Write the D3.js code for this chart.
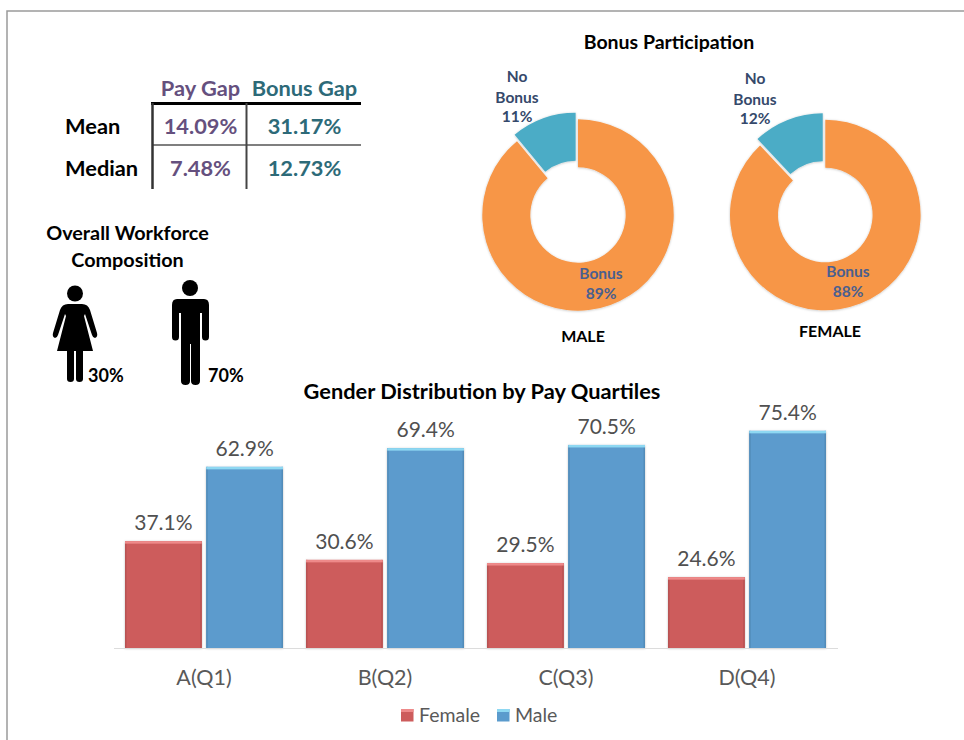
<!DOCTYPE html>
<html>
<head>
<meta charset="utf-8">
<script src="https://cdn.jsdelivr.net/npm/d3@7"></script>
<style>
  html, body { margin: 0; padding: 0; background: #fff; }
  svg { display: block; }
  text { font-family: Lato, "Open Sans", sans-serif; }
</style>
</head>
<body>
<div class="chart"></div>
<script>
// quartile bars
const quartiles = ["A(Q1)", "B(Q2)", "C(Q3)", "D(Q4)"];
const seriesNames = ["Female", "Male"];
const femaleShare = [37.1, 30.6, 29.5, 24.6];
const maleShare = [62.9, 69.4, 70.5, 75.4];

// bonus donuts
const donutNames = ["MALE", "FEMALE"];
const bonusLabels = ["Bonus", "No Bonus"];
const maleBonus = [89, 11];
const femaleBonus = [88, 12];

// gap table
const gapColumns = ["Pay Gap", "Bonus Gap"];
const gapRows = ["Mean", "Median"];
const payGap = ["14.09%", "7.48%"];
const bonusGap = ["31.17%", "12.73%"];

// workforce
const workforceLabels = ["30%", "70%"];

const width = 964, height = 740;
const fills = { Female: "#cd5c5c", Male: "#5b9bcd" };
const bevels = { Female: "#ee8a8a", Male: "#8ed8f2" };
const edges = { Female: "#b85252", Male: "#528cb9" };

const svg = d3.select(".chart").append("svg")
    .attr("width", width)
    .attr("height", height)
    .attr("viewBox", [0, 0, width, height]);

const defs = svg.append("defs");
defs.append("filter").attr("id", "soft")
    .attr("x", "-5%").attr("y", "-5%").attr("width", "110%").attr("height", "110%")
    .append("feDropShadow")
    .attr("dx", 0).attr("dy", 0.5).attr("stdDeviation", 1)
    .attr("flood-color", "#000").attr("flood-opacity", 0.25);

// page frame
svg.append("path")
    .attr("d", "M7,740V11H964")
    .attr("fill", "none")
    .attr("stroke", "#9a9a9a")
    .attr("stroke-width", 1.5);

function label(g, str, x, y, size, color, weight, anchor) {
    return g.append("text")
        .attr("x", x)
        .attr("y", y)
        .attr("text-anchor", anchor || "middle")
        .attr("font-size", size)
        .attr("font-weight", weight || "normal")
        .attr("fill", color)
        .text(str);
}

// ---- table
const tableG = svg.append("g");
const colCenter = [200.5, 304.5];
const rowBase = [134, 176];
const colColors = ["#65507e", "#2d6a78"];
gapColumns.forEach((c, i) => label(tableG, c, colCenter[i], 96, 21.8, colColors[i], "bold"));
gapRows.forEach((r, j) => {
    label(tableG, r, 65, rowBase[j], 21.8, "#000", "bold", "start");
    label(tableG, payGap[j], colCenter[0], rowBase[j], 21.8, colColors[0], "bold");
    label(tableG, bonusGap[j], colCenter[1], rowBase[j], 21.8, colColors[1], "bold");
});
tableG.append("path").attr("d", "M151,103.5H361").attr("stroke", "#000").attr("stroke-width", 3);
tableG.append("path").attr("d", "M152,145H361").attr("stroke", "#555").attr("stroke-width", 1.5);
tableG.append("path").attr("d", "M152.5,103V189").attr("stroke", "#333").attr("stroke-width", 2.5);
tableG.append("path").attr("d", "M246.5,103V189").attr("stroke", "#444").attr("stroke-width", 2);

// ---- workforce icons
const peopleG = svg.append("g");
label(peopleG, "Overall Workforce", 127.5, 240, 19.8, "#000", "bold");
label(peopleG, "Composition", 127.5, 267, 19.8, "#000", "bold");

const womanPath = "M68,304H82Q88,304 90,310L97,333Q98,337 95,338Q93,338 92,335L85,314L84,316L93,351H83V379Q83,382 79.5,382Q76,382 76,379V351H74V379Q74,382 70.5,382Q67,382 67,379V351H57L66,316L65,314L58,335Q57,338 55,338Q52,337 53,333L60,310Q62,304 68,304Z";
const manPath = "M177,299H204Q209,299 209,305V337Q209,340.5 205.5,340.5Q202,340.5 202,337V313H200V381Q200,385 195.5,385Q191,385 191,381V344H190V381Q190,385 185.5,385Q181,385 181,381V313H179V337Q179,340.5 175.5,340.5Q172,340.5 172,337V305Q172,299 177,299Z";
peopleG.append("circle").attr("cx", 75).attr("cy", 293.5).attr("r", 8).attr("fill", "#000");
peopleG.append("path").attr("d", womanPath).attr("fill", "#000");
peopleG.append("circle").attr("cx", 190).attr("cy", 288).attr("r", 8).attr("fill", "#000");
peopleG.append("path").attr("d", manPath).attr("fill", "#000");
label(peopleG, workforceLabels[0], 88, 382, 18, "#000", "bold", "start");
label(peopleG, workforceLabels[1], 208, 382, 18, "#000", "bold", "start");

// ---- donuts
label(svg, "Bonus Participation", 669, 49, 19.5, "#000", "bold");

const pie = d3.pie().sort(null).value(d => d);
const donutSpec = [
    { values: maleBonus, cx: 578, cy: 215, r: 95.7, r0: 47.7, nameX: 583, nameY: 342,
      noX: 517, noY: 82, yesX: 601, yesY: 279 },
    { values: femaleBonus, cx: 825.3, cy: 215, r: 95.3, r0: 47.3, nameX: 830, nameY: 337,
      noX: 755, noY: 84, yesX: 848, yesY: 277 }
];
const donutColors = ["#f79646", "#4bacc6"];

donutSpec.forEach((spec, k) => {
    const g = svg.append("g");
    const arc = d3.arc().innerRadius(spec.r0).outerRadius(spec.r);
    const slices = g.append("g")
        .attr("transform", `translate(${spec.cx},${spec.cy})`)
        .attr("filter", "url(#soft)");
    slices.selectAll("path")
        .data(pie(spec.values))
        .join("path")
        .attr("fill", (d, i) => donutColors[i])
        .attr("d", arc)
        .attr("transform", (d, i) => {
            if (i === 0) return null;
            // pull the no bonus slice out along its bisector
            const mid = (d.startAngle + d.endAngle) / 2;
            return `translate(${Math.sin(mid) * 7},${-Math.cos(mid) * 7})`;
        });

    const darkBlue = "#35496b", midBlue = "#4a5f8f";
    const noParts = bonusLabels[1].split(" ");
    label(g, noParts[0], spec.noX, spec.noY, 15.5, darkBlue, "bold");
    label(g, noParts[1], spec.noX, spec.noY + 21, 15.5, darkBlue, "bold");
    label(g, spec.values[1] + "%", spec.noX, spec.noY + 40, 15.5, darkBlue, "bold");
    label(g, bonusLabels[0], spec.yesX, spec.yesY, 15.5, midBlue, "bold");
    label(g, spec.values[0] + "%", spec.yesX, spec.yesY + 20, 15.5, midBlue, "bold");
    label(g, donutNames[k], spec.nameX, spec.nameY, 16, "#000", "bold");
});

// ---- quartile bars
const barG = svg.append("g");
label(barG, "Gender Distribution by Pay Quartiles", 482, 399, 21.8, "#000", "bold");

const baseline = 648;
const x0 = d3.scaleBand().domain(quartiles).range([113.5, 837.5]);
const x1 = d3.scaleBand().domain(seriesNames)
    .range([11.5, x0.bandwidth() - 11.5])
    .paddingInner(0.055);
const y = d3.scaleLinear().domain([0, 100]).range([baseline, baseline - 288]);

const barRows = quartiles.flatMap((q, i) => [
    { q, s: "Female", v: femaleShare[i] },
    { q, s: "Male", v: maleShare[i] }
]);

const bar = barG.selectAll("g.bar")
    .data(barRows)
    .join("g")
    .attr("class", "bar")
    .attr("transform", d => `translate(${x0(d.q) + x1(d.s)},0)`);

bar.append("rect")
    .attr("y", d => y(d.v))
    .attr("width", x1.bandwidth())
    .attr("height", d => baseline - y(d.v))
    .attr("fill", d => fills[d.s])
    .attr("filter", "url(#soft)");
// inner edge shading on the bevel sides
bar.append("rect")
    .attr("y", d => y(d.v))
    .attr("width", 1.5)
    .attr("height", d => baseline - y(d.v))
    .attr("fill", d => edges[d.s]);
bar.append("rect")
    .attr("x", x1.bandwidth() - 1.5)
    .attr("y", d => y(d.v))
    .attr("width", 1.5)
    .attr("height", d => baseline - y(d.v))
    .attr("fill", d => edges[d.s]);
bar.append("rect")
    .attr("y", d => y(d.v))
    .attr("width", x1.bandwidth())
    .attr("height", 2.5)
    .attr("fill", d => bevels[d.s]);
bar.append("text")
    .attr("x", x1.bandwidth() / 2)
    .attr("y", d => y(d.v) - 11)
    .attr("text-anchor", "middle")
    .attr("font-size", 21)
    .attr("fill", "#505050")
    .text(d => d.v.toFixed(1) + "%");

// category axis, only the labels and the base line are visible
const xAxis = barG.append("g")
    .attr("transform", `translate(0,${baseline})`)
    .call(d3.axisBottom(x0).tickSize(0).tickPadding(22));
xAxis.select(".domain").attr("stroke", "#dcdcdc").attr("stroke-width", 1);
xAxis.selectAll("text")
    .attr("font-size", 21.5)
    .attr("font-family", "Lato, sans-serif")
    .attr("fill", "#595959");

// legend
const legendX = [401, 497];
const legend = barG.selectAll("g.legend")
    .data(seriesNames)
    .join("g")
    .attr("class", "legend")
    .attr("transform", (d, i) => `translate(${legendX[i]},709)`);
legend.append("rect").attr("width", 12.5).attr("height", 12.5).attr("fill", d => fills[d]);
legend.append("rect").attr("width", 12.5).attr("height", 3).attr("fill", d => bevels[d]);
legend.append("text")
    .attr("x", 18)
    .attr("y", 13)
    .attr("font-size", 19.5)
    .attr("fill", "#595959")
    .text(d => d);
</script>
</body>
</html>
